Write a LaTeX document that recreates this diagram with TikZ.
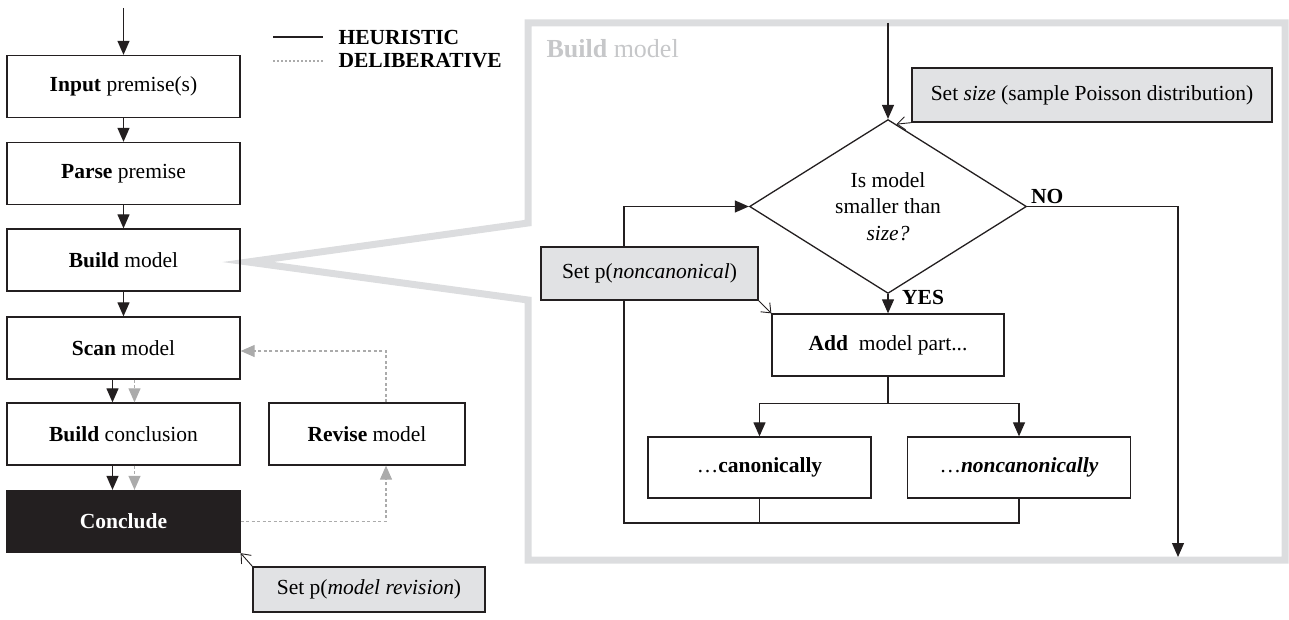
\documentclass[tikz,border=0pt]{standalone}
\usepackage{fontspec}
\setmainfont{Liberation Serif}
\usetikzlibrary{arrows.meta,shapes.geometric,calc}
\definecolor{ink}{HTML}{231F20}
\definecolor{boxgray}{HTML}{E1E2E4}
\definecolor{framegray}{HTML}{DCDDDF}
\definecolor{delibgray}{HTML}{ABABAB}
\definecolor{titlegray}{HTML}{C6C7C9}

\begin{document}
\begin{tikzpicture}[x=1pt,y=-1pt,
    font=\fontsize{21.5}{26.5}\selectfont,
    stepbox/.style={draw=ink,line width=1.3pt,minimum width=233pt,minimum height=62pt,inner sep=0pt},
    setbox/.style={draw=ink,line width=1.3pt,fill=boxgray,inner sep=0pt},
    plainline/.style={draw=ink,line width=1.2pt},
    heur/.style={plainline,-{Triangle[length=14pt,width=12pt]}},
    delib/.style={draw=delibgray,line width=1.1pt,dash pattern=on 3pt off 2.5pt,-{Triangle[length=14pt,width=12pt]}},
    setarr/.style={draw=ink,line width=0.9pt,-{Straight Barb[length=8pt,width=13pt]}}]
\useasboundingbox (0,0) rectangle (1289,620);

% zoom frame
\draw[framegray,line width=7pt,line join=miter]
    (528,300) -- (248,262) -- (528,223) -- (528,23) -- (1285,23) -- (1285,560) -- (528,560) -- cycle;
\node[anchor=west,text=titlegray,font=\fontsize{26}{31}\selectfont] (frametitle) at (543,49) {\textbf{Build} model};

% legend
\coordinate (legh) at (273,37);
\coordinate (legd) at (273,61);
\draw[plainline] (legh) -- ++(50,0) node[anchor=west,inner sep=0pt,xshift=15pt] (leghtext) {\textbf{HEURISTIC}};
\draw[draw=delibgray,line width=1.1pt,dash pattern=on 2pt off 2pt] (legd) -- ++(50,0) node[anchor=west,inner sep=0pt,xshift=15pt] (legdtext) {\textbf{DELIBERATIVE}};

% main column
\node[stepbox] (inp) at (123.5,86.5) {\textbf{Input} premise(s)};
\node[stepbox] (parse) at (123.5,173.5) {\textbf{Parse} premise};
\node[stepbox] (build) at (123.5,260) {\textbf{Build} model};
\node[stepbox] (scan) at (123.5,348) {\textbf{Scan} model};
\node[stepbox] (concl) at (123.5,434) {\textbf{Build} conclusion};
\node[stepbox,fill=ink,text=white] (conclude) at (123.5,521.5) {\textbf{Conclude}};
\node[stepbox,minimum width=196pt] (revise) at (367,434) {\textbf{Revise} model};
\node[setbox,minimum width=232pt,minimum height=45pt] (setrev) at (369,589.5) {Set p(\textit{model revision})};

\coordinate (start) at (123.5,8);
\draw[heur] (start) -- (inp);
\draw[heur] (inp) -- (parse);
\draw[heur] (parse) -- (build);
\draw[heur] (build) -- (scan);
\draw[heur] ([xshift=-11pt]scan.south) -- ([xshift=-11pt]concl.north);
\draw[delib] ([xshift=11pt]scan.south) -- ([xshift=11pt]concl.north);
\draw[heur] ([xshift=-11pt]concl.south) -- ([xshift=-11pt]conclude.north);
\draw[delib] ([xshift=11pt]concl.south) -- ([xshift=11pt]conclude.north);
\draw[delib] (conclude.east) -| ([xshift=19pt]revise.south);
\draw[delib] ([xshift=19pt]revise.north) |- ([yshift=-3pt]scan.east);
\draw[setarr] (setrev.north west) -- (conclude.south east);

% build model detail
\node[draw=ink,line width=1.3pt,shape=diamond,minimum width=277pt,minimum height=157pt,inner sep=0pt,align=center] (dia) at (888,206.5) {Is model\\smaller than\\\textit{size?}};
\node[setbox,minimum width=360pt,minimum height=54pt] (setsize) at (1092,95) {Set \textit{size} (sample Poisson distribution)};
\node[stepbox,minimum width=232pt] (add) at (888,345) {\textbf{Add}\ \ model part...};
\node[stepbox,minimum width=223pt,minimum height=61pt] (canon) at (759.5,467.5) {\ldots\textbf{canonically}};
\node[stepbox,minimum width=223pt,minimum height=61pt] (noncanon) at (1019,467.5) {\ldots\textbf{\textit{noncanonically}}};

\coordinate (entry) at (888,23);
\coordinate (noend) at (1178,557);
\coordinate (lp) at (624,523);
\draw[heur] (entry) -- (dia.north);
\draw[setarr] (setsize.south west) -- ($(dia.north)!0.06!(dia.east)$);
\draw[heur] (dia.east) -| (noend);
\node[anchor=west,inner sep=0pt] (nolab) at (1031,196) {\textbf{NO}};
\draw[heur] (dia.south) -- (add.north);
\node[anchor=west,inner sep=0pt] (yeslab) at (902,297) {\textbf{YES}};
\draw[plainline] (add.south) -- ++(0,27) coordinate (fork);
\draw[heur] (fork) -| (canon.north);
\draw[heur] (fork) -| (noncanon.north);
\draw[plainline] (canon.south) -- (canon.south |- lp);
\draw[heur] (noncanon.south) |- (lp) |- (dia.west);
\node[setbox,minimum width=217pt,minimum height=53pt] (setnc) at (649.5,273.5) {Set p(\textit{noncanonical})};
\draw[setarr] (setnc.south east) -- (add.north west);
\end{tikzpicture}
\end{document}
